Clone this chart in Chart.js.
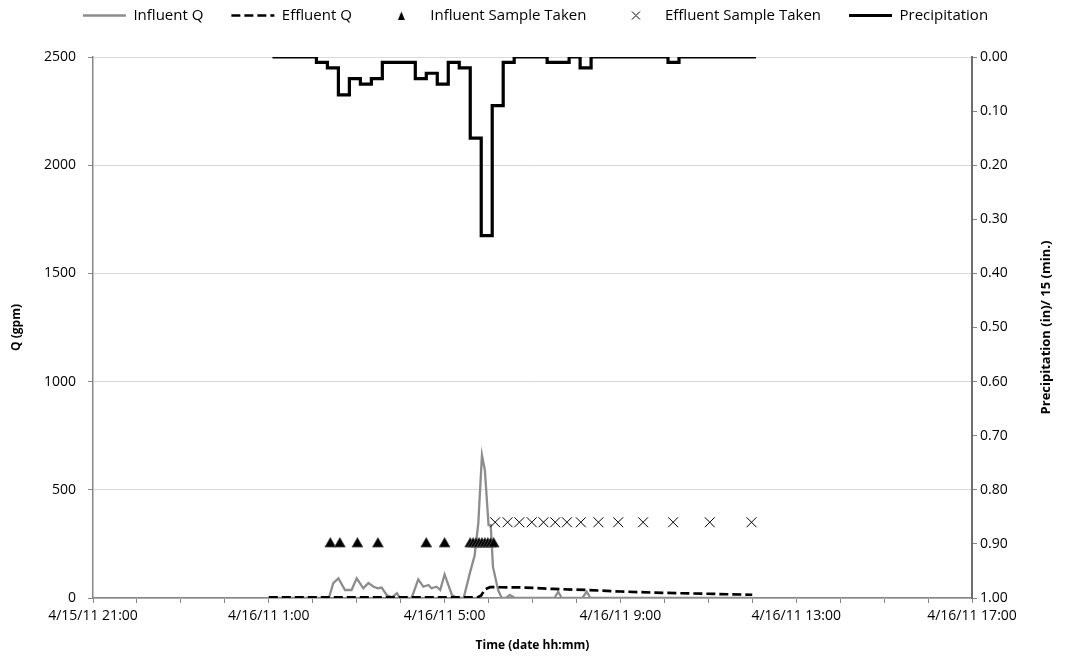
<!DOCTYPE html>
<html>
<head>
<meta charset="utf-8">
<script src="https://cdn.jsdelivr.net/npm/chart.js@4.4.1/dist/chart.umd.min.js"></script>
<style>
	html, body { margin: 0; padding: 0; background: #fff; }
</style>
</head>
<body>
<canvas id="myChart" width="1071" height="663"></canvas>
<script>
// x positions are clock times on 4/16/11, axis runs from 4/15/11 21:00
const xTickLabels = ["4/15/11 21:00", "4/16/11 1:00", "4/16/11 5:00", "4/16/11 9:00", "4/16/11 13:00", "4/16/11 17:00"];

const influentTimes = ["1:00", "2:22", "2:28", "2:35", "2:44", "2:53", "3:00", "3:09", "3:16", "3:23", "3:29", "3:34", "3:41", "3:48", "3:55", "3:59",
	"4:15", "4:24", "4:31", "4:38", "4:42", "4:49", "4:54", "5:00", "5:10", "5:17", "5:26", "5:35", "5:41", "5:46", "5:51", "5:55",
	"6:00", "6:03", "6:06", "6:13", "6:18", "6:24", "6:29", "6:36", "7:30", "7:35", "7:40", "8:08", "8:14", "8:19", "12:00"];
const influentQ = [0, 0, 69, 91, 37, 37, 91, 45, 69, 52, 45, 48, 14, 3, 22, 0,
	0, 86, 52, 60, 45, 52, 37, 109, 14, 0, 0, 122, 196, 345, 660, 590,
	337, 337, 145, 37, 0, 0, 14, 0, 0, 29, 0, 0, 29, 0, 0];

const effluentTimes = ["1:00", "5:45", "5:50", "5:55", "6:02", "6:45", "7:28", "8:14", "9:00", "9:45", "10:21", "11:06", "12:00"];
const effluentQ = [3, 3, 12, 40, 50, 49, 42, 37, 30, 25, 22, 19, 15];

const influentSampleTimes = ["2:24", "2:37", "3:01", "3:29", "4:35", "5:00", "5:35", "5:39", "5:43", "5:47", "5:51", "5:55", "5:59", "6:03", "6:07"];
const influentSampleLevel = 250;

const effluentSampleTimes = ["6:09", "6:26", "6:42", "6:59", "7:15", "7:31", "7:47", "8:06", "8:30", "8:57", "9:31", "10:12", "11:02", "11:59"];
const effluentSampleLevel = 350;

// precipitation per 15 minutes, first reading at 1:05
const precipStart = "1:05";
const precipStepMin = 15;
const precipValues = [0, 0, 0, 0, 0.01, 0.02, 0.07, 0.04, 0.05, 0.04, 0.01, 0.01, 0.01, 0.04, 0.03, 0.05, 0.01, 0.02,
	0.15, 0.33, 0.09, 0.01, 0, 0, 0, 0.01, 0.01, 0, 0.02, 0, 0, 0, 0, 0, 0, 0, 0.01, 0, 0, 0, 0, 0, 0, 0, 0];

const toX = (clock) => {
	const [h, m] = clock.split(":").map(Number);
	return 3 + h + m / 60; // hours after 4/15 21:00
};

const pairs = (times, values) => times.map((t, i) => ({ x: toX(t), y: values[i] }));
const level = (times, v) => times.map((t) => ({ x: toX(t), y: v }));

const FONT = "'Open Sans', sans-serif";
Chart.defaults.font.family = FONT;
Chart.defaults.font.size = 14;
Chart.defaults.color = "#000";

// small legend keys for the marker series
const legendIcon = (draw) => {
	const c = document.createElement("canvas");
	c.width = 11;
	c.height = 11;
	draw(c.getContext("2d"));
	return c;
};
const triangleIcon = legendIcon((ctx) => {
	ctx.fillStyle = "#000";
	ctx.beginPath();
	ctx.moveTo(5.5, 1.5);
	ctx.lineTo(9, 10);
	ctx.lineTo(2, 10);
	ctx.closePath();
	ctx.fill();
});
const crossIcon = legendIcon((ctx) => {
	ctx.strokeStyle = "#000";
	ctx.lineWidth = 1;
	ctx.beginPath();
	ctx.moveTo(1.5, 1.5);
	ctx.lineTo(9.5, 9.5);
	ctx.moveTo(9.5, 1.5);
	ctx.lineTo(1.5, 9.5);
	ctx.stroke();
});

const legendSpace = {
	id: "legendSpace",
	beforeInit(chart) {
		const fit = chart.legend.fit;
		chart.legend.fit = function () {
			fit.call(this);
			this.height = 77;
		};
	},
};

const rightTitle = {
	id: "rightTitle",
	afterDraw(chart) {
		const ctx = chart.ctx;
		const area = chart.chartArea;
		ctx.save();
		ctx.translate(1046, (area.top + area.bottom) / 2);
		ctx.rotate(-Math.PI / 2);
		ctx.font = "bold 13px " + FONT;
		ctx.fillStyle = "#000";
		ctx.textAlign = "center";
		ctx.textBaseline = "middle";
		ctx.fillText("Precipitation (in)/ 15 (min.)", 0, 0);
		ctx.restore();
	},
};

const initChart = () => {
	const canvas = document.getElementById("myChart");

	return new Chart(canvas, {
		type: "line",
		data: {
			datasets: [
				{
					label: "Influent Q",
					data: pairs(influentTimes, influentQ),
					borderColor: "#8c8c8c",
					borderWidth: 2.3,
					pointRadius: 0,
					order: 5,
				},
				{
					label: "Effluent Q",
					data: pairs(effluentTimes, effluentQ),
					borderColor: "#000",
					borderWidth: 2.7,
					borderDash: [9, 4],
					pointRadius: 0,
					order: 4,
				},
				{
					label: "Influent Sample Taken",
					data: level(influentSampleTimes, influentSampleLevel),
					showLine: false,
					pointStyle: "triangle",
					pointRadius: 6.3,
					pointBackgroundColor: "#000",
					pointBorderColor: "#555",
					pointBorderWidth: 0.8,
					backgroundColor: "#000",
					borderColor: "#000",
					order: 3,
				},
				{
					label: "Effluent Sample Taken",
					data: level(effluentSampleTimes, effluentSampleLevel),
					showLine: false,
					pointStyle: "crossRot",
					pointRadius: 7,
					pointBorderColor: "#000",
					pointBorderWidth: 1,
					backgroundColor: "#000",
					borderColor: "#000",
					order: 2,
				},
				{
					label: "Precipitation",
					data: precipValues.map((v, i) => ({ x: toX(precipStart) + (i * precipStepMin) / 60, y: v })),
					yAxisID: "y2",
					borderColor: "#000",
					borderWidth: 3.2,
					stepped: true,
					pointRadius: 0,
					order: 1,
				},
			],
		},
		options: {
			responsive: false,
			animation: false,
			devicePixelRatio: 1,
			layout: { padding: { top: -20, left: 0, right: 0, bottom: 0 } },
			scales: {
				x: {
					type: "linear",
					min: 0,
					max: 20,
					ticks: {
						stepSize: 1,
						autoSkip: false,
						maxRotation: 0,
						padding: 5,
						callback: (v) => (v % 4 === 0 ? xTickLabels[v / 4] : ""),
					},
					grid: { drawOnChartArea: false, tickLength: 5, tickColor: "#868686" },
					border: { color: "#868686", width: 1.5 },
					title: {
						display: true,
						text: "Time (date hh:mm)",
						font: { size: 12, weight: "bold" },
						padding: { top: 0, bottom: 10 },
					},
					afterFit: (s) => { s.height = 65; },
				},
				y: {
					position: "left",
					min: 0,
					max: 2500,
					ticks: { stepSize: 500, padding: 12, callback: (v) => String(v) },
					grid: { color: "#d9d9d9", tickLength: 5, tickColor: "#868686" },
					border: { color: "#868686", width: 1.5 },
					title: {
						display: true,
						text: "Q (gpm)",
						font: { size: 12, weight: "bold" },
						padding: { top: 9, bottom: 0 },
					},
					afterFit: (s) => { s.width = 93; },
				},
				y2: {
					position: "right",
					reverse: true,
					min: 0,
					max: 1,
					ticks: { stepSize: 0.1, padding: 3, callback: (v) => v.toFixed(2) },
					grid: { drawOnChartArea: false, tickLength: 5, tickColor: "#868686" },
					border: { color: "#6e6e6e", width: 2 },
					afterFit: (s) => { s.width = 99; },
				},
			},
			plugins: {
				tooltip: { enabled: false },
				legend: {
					position: "top",
					labels: {
						usePointStyle: true,
						pointStyleWidth: 43,
						boxHeight: 8,
						padding: 28,
						font: { size: 15 },
						generateLabels: (chart) =>
							chart.data.datasets.map((ds, i) => ({
								text: ds.label,
								datasetIndex: i,
								pointStyle: i === 2 ? triangleIcon : i === 3 ? crossIcon : "line",
								fillStyle: ds.borderColor,
								strokeStyle: ds.borderColor,
								lineWidth: ds.borderWidth,
								lineDash: ds.borderDash || [],
								fontColor: "#000",
								hidden: false,
							})),
					},
				},
			},
		},
		plugins: [legendSpace, rightTitle],
	});
};

window.onload = () => {
	initChart();
};
</script>
</body>
</html>
